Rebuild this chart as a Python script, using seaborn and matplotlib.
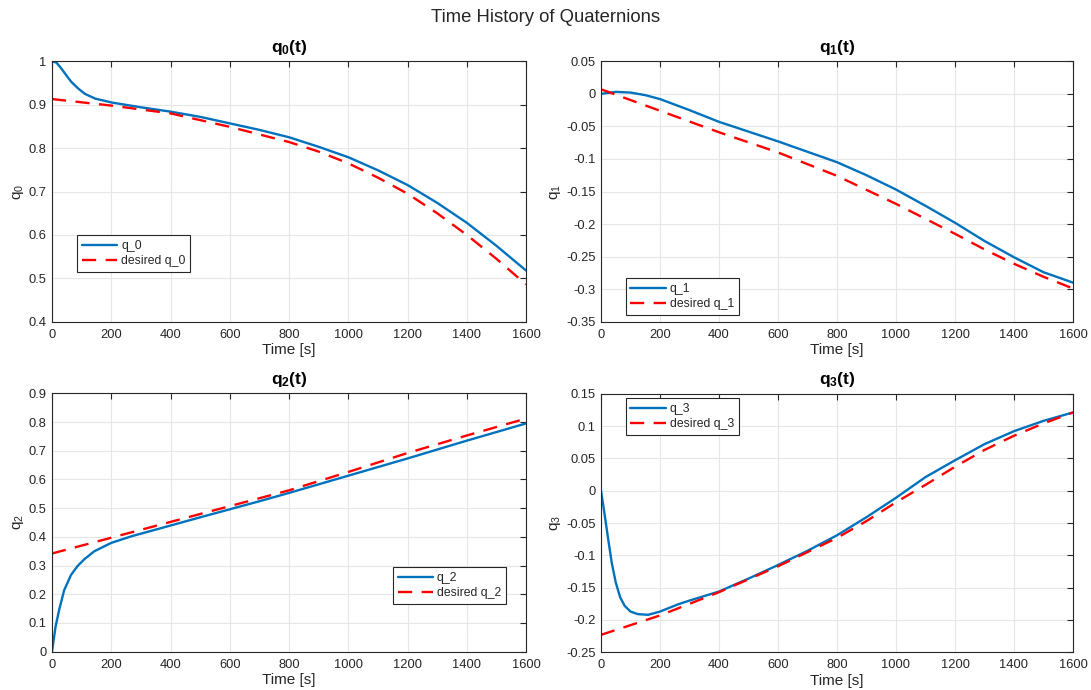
import numpy as np
import pandas as pd
import matplotlib
matplotlib.use("Agg")
import matplotlib.pyplot as plt
from matplotlib.ticker import FuncFormatter
import seaborn as sns

# ---------------- data ----------------
t_q0 = [0, 15, 32, 49, 66, 89, 111, 146, 202, 300, 400, 500, 600, 700, 800, 900, 1000, 1100, 1200, 1300, 1400, 1500, 1600]
q0 = [1.0, 0.997, 0.983, 0.967, 0.952, 0.937, 0.925, 0.914, 0.905, 0.894, 0.884, 0.872, 0.857, 0.842, 0.825, 0.803, 0.779, 0.749, 0.715, 0.674, 0.628, 0.575, 0.518]
t_q0d = [0, 200, 400, 600, 800, 900, 1000, 1100, 1200, 1300, 1400, 1500, 1600]
q0d = [0.913, 0.898, 0.880, 0.849, 0.814, 0.792, 0.765, 0.732, 0.695, 0.650, 0.600, 0.545, 0.486]

t_q1 = [0, 50, 100, 150, 200, 300, 400, 500, 600, 700, 800, 900, 1000, 1100, 1200, 1300, 1400, 1500, 1600]
q1 = [0.0, 0.003, 0.002, -0.002, -0.008, -0.025, -0.043, -0.058, -0.073, -0.089, -0.105, -0.125, -0.147, -0.172, -0.198, -0.226, -0.251, -0.274, -0.290]
t_q1d = [0, 200, 400, 600, 800, 1000, 1100, 1200, 1300, 1400, 1500, 1600]
q1d = [0.007, -0.026, -0.059, -0.090, -0.126, -0.169, -0.192, -0.215, -0.239, -0.261, -0.281, -0.299]

t_q2 = [0, 12, 24, 41, 64, 86, 109, 143, 200, 268, 388, 500, 600, 700, 800, 900, 1000, 1100, 1200, 1300, 1400, 1500, 1600]
q2 = [0.0, 0.087, 0.145, 0.214, 0.267, 0.298, 0.322, 0.350, 0.379, 0.402, 0.436, 0.468, 0.496, 0.524, 0.553, 0.583, 0.613, 0.643, 0.673, 0.704, 0.735, 0.765, 0.795]
t_q2d = [0, 200, 400, 600, 800, 1000, 1200, 1400, 1600]
q2d = [0.342, 0.397, 0.452, 0.507, 0.562, 0.626, 0.692, 0.753, 0.812]

t_q3 = [0, 12, 25, 37, 50, 65, 80, 100, 125, 160, 200, 260, 300, 400, 500, 600, 700, 800, 900, 1000, 1100, 1200, 1300, 1400, 1500, 1600]
q3 = [0.0, -0.036, -0.077, -0.113, -0.142, -0.165, -0.178, -0.187, -0.191, -0.192, -0.187, -0.176, -0.170, -0.156, -0.136, -0.115, -0.093, -0.069, -0.041, -0.011, 0.021, 0.047, 0.072, 0.092, 0.108, 0.121]
t_q3d = [0, 100, 200, 300, 400, 500, 600, 700, 800, 900, 1000, 1100, 1200, 1300, 1400, 1500, 1600]
q3d = [-0.223, -0.208, -0.193, -0.175, -0.157, -0.137, -0.117, -0.095, -0.073, -0.047, -0.018, 0.009, 0.037, 0.063, 0.085, 0.104, 0.121]

titles = [r"$\mathbf{q_0(t)}$", r"$\mathbf{q_1(t)}$", r"$\mathbf{q_2(t)}$", r"$\mathbf{q_3(t)}$"]
ylabels = [r"$\mathrm{q_0}$", r"$\mathrm{q_1}$", r"$\mathrm{q_2}$", r"$\mathrm{q_3}$"]
labels_act = ["q_0", "q_1", "q_2", "q_3"]
labels_des = ["desired q_0", "desired q_1", "desired q_2", "desired q_3"]
ylims = [(0.4, 1.0), (-0.35, 0.05), (0.0, 0.9), (-0.25, 0.15)]
ysteps = [0.1, 0.05, 0.1, 0.05]
suptitle = "Time History of Quaternions"
xlabel = "Time [s]"

actual = [(t_q0, q0), (t_q1, q1), (t_q2, q2), (t_q3, q3)]
desired = [(t_q0d, q0d), (t_q1d, q1d), (t_q2d, q2d), (t_q3d, q3d)]

# ---------------- style ----------------
sns.set_theme(style="whitegrid")
plt.rcParams["font.family"] = ["Liberation Sans", "DejaVu Sans"]
plt.rcParams["mathtext.fontset"] = "custom"
plt.rcParams["mathtext.rm"] = "Liberation Sans"
plt.rcParams["mathtext.bf"] = "Liberation Sans:bold"
plt.rcParams["mathtext.it"] = "Liberation Sans:italic"

BLUE = "#0072BD"
RED = "#FF0000"
AXC = "#262626"

fig = plt.figure(figsize=(10.91, 6.90), dpi=100)
W, H = 1091, 690
boxes = [
    (52, 61.3, 526, 321.7),
    (601, 61.3, 1073, 321.7),
    (52, 393.3, 526, 651.7),
    (601, 393.7, 1073, 652.3),
]
legend_locs = [
    dict(loc="lower left", bbox_to_anchor=(0.053, 0.19)),
    dict(loc="lower left", bbox_to_anchor=(0.052, 0.026)),
    dict(loc="lower left", bbox_to_anchor=(0.719, 0.185)),
    dict(loc="upper left", bbox_to_anchor=(0.052, 0.982)),
]

def gfmt(v, pos):
    s = "%g" % round(v, 4)
    return "0" if s == "-0" else s

for i in range(4):
    l, tp, r, b = boxes[i]
    ax = fig.add_axes([l / W, 1 - b / H, (r - l) / W, (b - tp) / H])
    ta, va = actual[i]
    td, vd = desired[i]
    dfa = pd.DataFrame({"t": ta, "v": va})
    dfd = pd.DataFrame({"t": td, "v": vd})
    sns.lineplot(data=dfa, x="t", y="v", ax=ax, color=BLUE, lw=1.7, label=labels_act[i])
    sns.lineplot(data=dfd, x="t", y="v", ax=ax, color=RED, lw=1.7, label=labels_des[i],
                 linestyle=(0, (6, 4)))
    ax.set_xlim(0, 1600)
    ax.set_ylim(*ylims[i])
    ax.set_xticks(np.arange(0, 1601, 200))
    lo, hi = ylims[i]
    ax.set_yticks(np.arange(lo, hi + ysteps[i] / 2, ysteps[i]))
    ax.xaxis.set_major_formatter(FuncFormatter(gfmt))
    ax.yaxis.set_major_formatter(FuncFormatter(gfmt))
    ax.set_facecolor("white")
    ax.grid(True, color="#e6e6e6", lw=0.8)
    for sp in ax.spines.values():
        sp.set_visible(True)
        sp.set_color(AXC)
        sp.set_linewidth(0.8)
    ax.tick_params(axis="both", direction="in", length=4, width=0.8, colors=AXC,
                   labelsize=9.3, labelcolor=AXC, pad=4, top=True, right=True)
    ax.tick_params(axis="x", pad=5)
    ax.set_title(titles[i], fontsize=12.5, color="black", pad=7)
    ax.set_xlabel(xlabel, fontsize=11, color=AXC, labelpad=2)
    ax.set_ylabel(ylabels[i], fontsize=11, color=AXC, labelpad=2)
    leg = ax.legend(**legend_locs[i], fontsize=8.8, frameon=True, fancybox=False,
                    edgecolor=AXC, framealpha=1, handlelength=2.9, handletextpad=0.3,
                    borderpad=0.4, labelspacing=0.25, borderaxespad=0)
    leg.get_frame().set_linewidth(0.8)

fig.suptitle(suptitle, fontsize=13.3, y=0.987, color=AXC)
fig.savefig("out.png", dpi=100, facecolor="white")
